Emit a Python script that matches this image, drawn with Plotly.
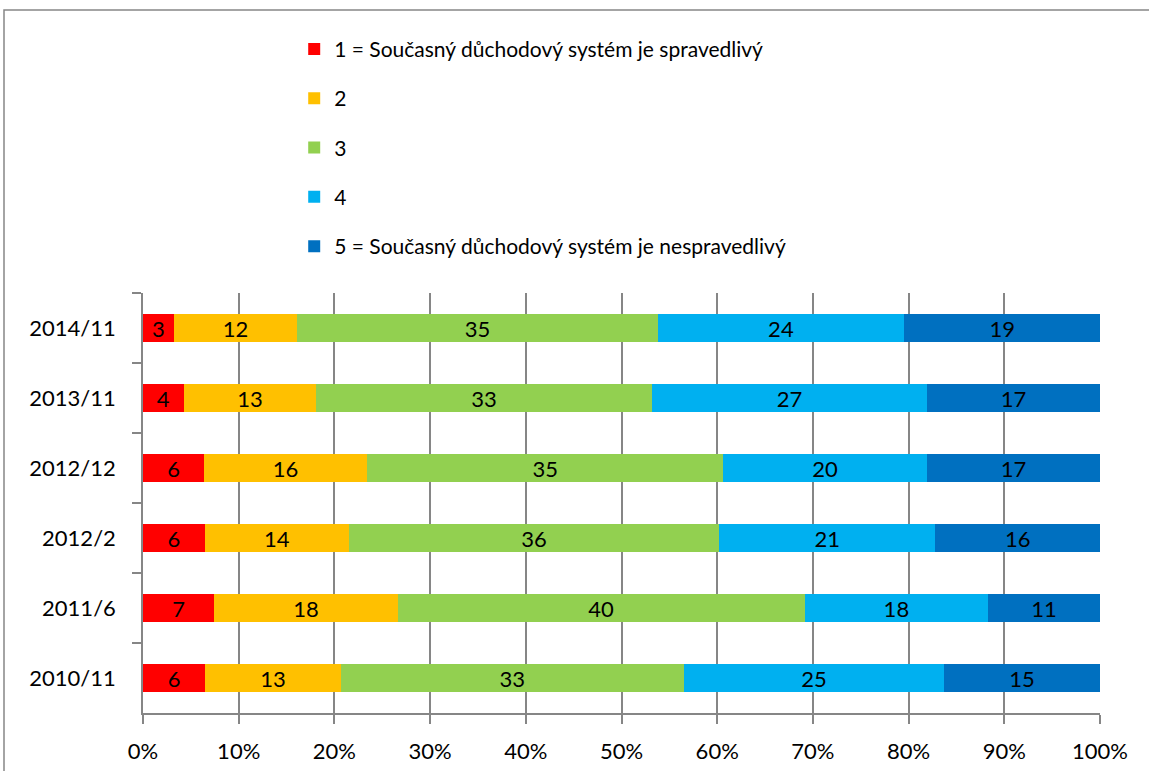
import plotly.graph_objects as go

categories = ["2014/11", "2013/11", "2012/12", "2012/2", "2011/6", "2010/11"]
series_names = [
    "1 = Současný důchodový systém je spravedlivý",
    "2",
    "3",
    "4",
    "5 = Současný důchodový systém je nespravedlivý",
]
v1 = [3, 4, 6, 6, 7, 6]
v2 = [12, 13, 16, 14, 18, 13]
v3 = [35, 33, 35, 36, 40, 33]
v4 = [24, 27, 20, 21, 18, 25]
v5 = [19, 17, 17, 16, 11, 15]
colors = ["#FF0000", "#FFC000", "#92D050", "#00B0F0", "#0070C0"]

FONT = "Lato"
FS = 22
fig = go.Figure()
for i, (name, vals) in enumerate(zip(series_names, [v1, v2, v3, v4, v5])):
    fig.add_trace(go.Bar(
        y=categories, x=vals, name=name, orientation="h",
        marker=dict(color=colors[i], line=dict(width=0)),
        text=[str(v) for v in vals], textposition="inside",
        insidetextanchor="middle", textangle=0, constraintext="none",
        textfont=dict(color="black", size=FS, family=FONT),
        legendgroup=f"g{i}", width=0.4,
    ))

fig.update_layout(
    width=1149, height=771,
    barmode="stack", barnorm="percent",
    paper_bgcolor="white", plot_bgcolor="white",
    margin=dict(l=143, r=49, t=293, b=58, autoexpand=False),
    font=dict(family=FONT, size=FS, color="black"),
    legend=dict(x=0.158, y=1.629, xanchor="left", yanchor="top",
                traceorder="grouped", tracegroupgap=19,
                font=dict(size=21, family=FONT), itemwidth=30,
                bgcolor="rgba(0,0,0,0)"),
    showlegend=True,
)
fig.update_xaxes(range=[0, 100], dtick=10, ticksuffix="%",
                 showgrid=True, gridcolor="#868686", gridwidth=1.5,
                 showline=True, linecolor="#868686", linewidth=1.5,
                 ticks="outside", ticklen=9, tickcolor="#868686", tickwidth=1.5,
                 zeroline=False, fixedrange=True, automargin=False,
                 tickfont=dict(size=FS, family=FONT), ticklabelstandoff=9)
fig.update_yaxes(autorange="reversed", showgrid=False,
                 showline=True, linecolor="#868686", linewidth=1.5,
                 ticks="outside", tickson="boundaries", ticklen=9,
                 tickcolor="#868686", tickwidth=1.5, automargin=False,
                 tickfont=dict(size=FS, family=FONT), ticklabelstandoff=21)

# outer chart border
fig.add_shape(type="rect", xref="paper", yref="paper",
              x0=(4 - 143) / 957, x1=(1160 - 143) / 957,
              y0=(713 - 790) / 420, y1=(713 - 10) / 420,
              line=dict(color="#868686", width=1.5), fillcolor="rgba(0,0,0,0)",
              layer="below")

fig.write_html("out.html", config={"displayModeBar": False},
               post_script="document.body.style.margin='0';document.body.style.overflow='hidden';")
